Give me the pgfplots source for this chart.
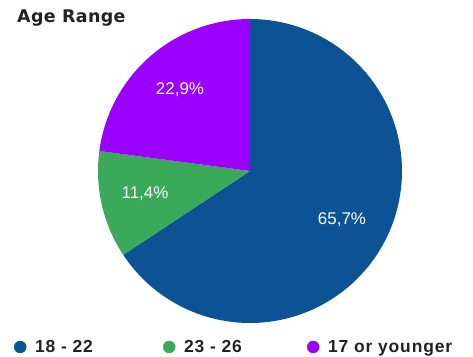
\documentclass[border=0pt]{standalone}
\usepackage{pgfplots}
\pgfplotsset{compat=1.18}
\usepackage{fontspec}
\setmainfont{Liberation Sans}
\newfontfamily\titlefont[LetterSpace=2]{DejaVu Sans}
\newfontfamily\legfont[LetterSpace=5]{Liberation Sans}
\definecolor{cblue}{HTML}{0B5394}
\definecolor{cgreen}{HTML}{3AAA5A}
\definecolor{cpurple}{HTML}{9900FF}
\definecolor{ctext}{HTML}{222222}
\begin{document}
\begin{tikzpicture}
\pgfmathsetmacro{\cx}{250}
\pgfmathsetmacro{\cy}{186}
\pgfmathsetmacro{\R}{152}
% values (percent)
\pgfmathsetmacro{\va}{65.7}
\pgfmathsetmacro{\vb}{11.4}
\pgfmathsetmacro{\vc}{22.9}
\pgfmathsetmacro{\aA}{90}
\pgfmathsetmacro{\aB}{90-3.6*\va}
\pgfmathsetmacro{\aC}{\aB-3.6*\vb}
\pgfmathsetmacro{\aD}{\aC-3.6*\vc}
\begin{axis}[
  scale only axis, width=473bp, height=357bp,
  xmin=0, xmax=473, ymin=0, ymax=357,
  hide axis, clip=false,
  legend columns=3,
  legend style={at={(axis cs:12,10)}, anchor=west, draw=none, fill=none,
    font=\legfont\bfseries\fontsize{17.5}{19}\selectfont\color{ctext},
    /tikz/every even column/.append style={column sep=0bp},
    inner sep=0pt, cells={anchor=west}},
  legend image code/.code={\fill[#1] (8bp,0bp) circle (6bp); \path[draw=none,fill=none] (0bp,0bp) rectangle (21bp,0.1bp);},
]
\path (rel axis cs:0,0) rectangle (rel axis cs:1,1);
\addplot[fill=cblue, draw=none, domain=\aA:\aB, samples=120, forget plot]
  ({\cx+\R*cos(x)}, {\cy+\R*sin(x)}) -- (axis cs:\cx,\cy) -- cycle;
\addplot[fill=cgreen, draw=none, domain=\aB:\aC, samples=40, forget plot]
  ({\cx+\R*cos(x)}, {\cy+\R*sin(x)}) -- (axis cs:\cx,\cy) -- cycle;
\addplot[fill=cpurple, draw=none, domain=\aC:\aD, samples=60, forget plot]
  ({\cx+\R*cos(x)}, {\cy+\R*sin(x)}) -- (axis cs:\cx,\cy) -- cycle;
\addlegendimage{cblue}
\addlegendentry{\makebox[124bp][l]{18 - 22}}
\addlegendimage{cgreen}
\addlegendentry{\makebox[119bp][l]{23 - 26}}
\addlegendimage{cpurple}
\addlegendentry{17 or younger}
\node[anchor=west, font=\titlefont\bfseries\fontsize{17.5}{19}\selectfont, text=ctext, inner sep=0pt] at (axis cs:17,339) {Age Range};
\node[font=\fontsize{17}{19}\selectfont, text=white] at (axis cs:342,137) {65,7\%};
\node[font=\fontsize{17}{19}\selectfont, text=white] at (axis cs:145,163) {11,4\%};
\node[font=\fontsize{17}{19}\selectfont, text=white] at (axis cs:180,267) {22,9\%};
\end{axis}
\end{tikzpicture}
\end{document}
